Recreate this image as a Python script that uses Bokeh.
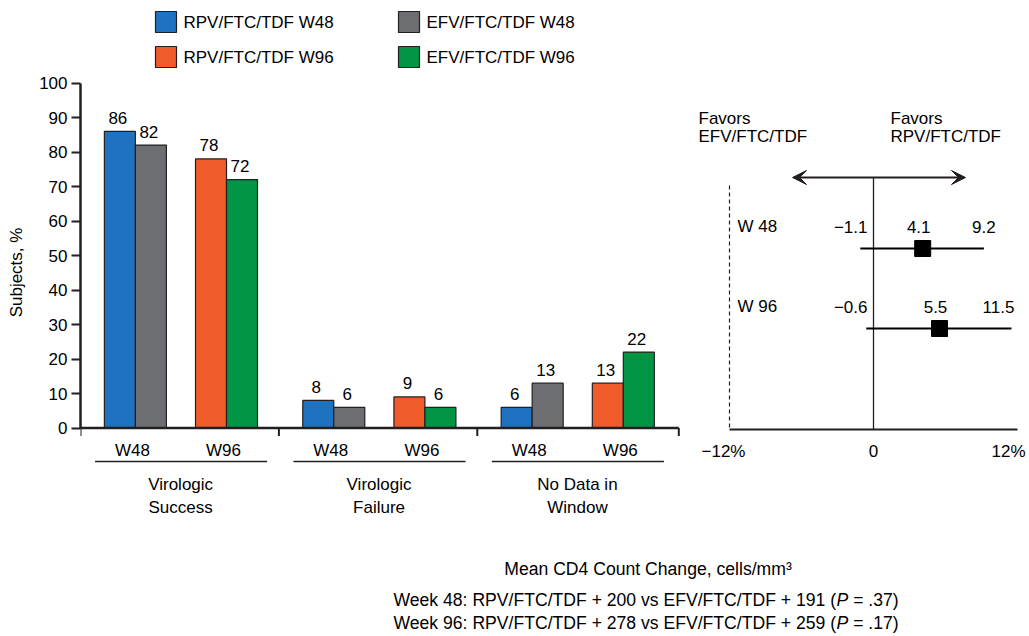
from bokeh.plotting import figure
from bokeh.models import Range1d, FixedTicker, Arrow, VeeHead
from bokeh.layouts import column
from bokeh.embed import file_html
from bokeh.resources import INLINE
from bokeh.core.properties import value

# ---------------- data ----------------
series_names = ["RPV/FTC/TDF W48", "EFV/FTC/TDF W48", "RPV/FTC/TDF W96", "EFV/FTC/TDF W96"]
series_colors = ["#1f72bf", "#6d6e71", "#f15a29", "#009444"]
rpv_w48 = [86, 8, 6]
efv_w48 = [82, 6, 13]
rpv_w96 = [78, 9, 13]
efv_w96 = [72, 6, 22]
week_labels = ["W48", "W96"]
category_line1 = ["Virologic", "Virologic", "No Data in"]
category_line2 = ["Success", "Failure", "Window"]
y_ticks = list(range(0, 101, 10))
y_axis_title = "Subjects, %"

forest_rows = ["W 48", "W 96"]
forest_est = [4.1, 5.5]
forest_lo = [-1.1, -0.6]
forest_hi = [9.2, 11.5]
forest_ticks = [-12, 0, 12]
forest_tick_labels = ["\u221212%", "0", "12%"]
favors_left = ["Favors", "EFV/FTC/TDF"]
favors_right = ["Favors", "RPV/FTC/TDF"]

cd4_title = "Mean CD4 Count Change, cells/mm\u00b3"
cd4_weeks = ["Week 48", "Week 96"]
cd4_rpv = [200, 278]
cd4_efv = [191, 259]
cd4_p = [".37", ".17"]

# ---------------- layout / style ----------------
FONT = value("Liberation Sans")
INK = "#231f20"
W, H1, H2 = 1028, 544, 91
LEFT = 80          # frame left edge (y axis position)
PX_X = 31.0        # px per bar unit
PX_Y = 3.45        # px per percent
Y0 = 427.5         # canvas y of 0 %
GROUP_W = 6.4
OFFS = [1.27, 2.27, 4.21, 5.21]
FS = "17px"
MID = "middle"


def fmt(v):
    return f"{v:.1f}".replace("-", "\u2212")


p = figure(width=W, height=H1,
           x_range=Range1d(0, (W - LEFT) / PX_X),
           y_range=Range1d(-(H1 - Y0) / PX_Y, Y0 / PX_Y),
           x_axis_location=None, toolbar_location=None, output_backend="svg",
           min_border_left=LEFT, min_border_right=0, min_border_top=0, min_border_bottom=0)
p.grid.visible = False
p.outline_line_color = None

ax = p.yaxis[0]
ax.bounds = (0, 100)
ax.ticker = FixedTicker(ticks=y_ticks)
ax.axis_line_width = 2.5
ax.axis_line_color = INK
ax.major_tick_line_width = 2
ax.major_tick_line_color = INK
ax.major_tick_out = 9
ax.major_tick_in = 0
ax.minor_tick_line_color = None
ax.major_label_text_font = "Liberation Sans"
ax.major_label_text_font_size = FS
ax.major_label_text_color = "black"
ax.major_label_standoff = 4
ax.axis_label = y_axis_title
ax.axis_label_text_font = "Liberation Sans"
ax.axis_label_text_font_size = FS
ax.axis_label_text_font_style = "normal"
ax.axis_label_text_color = "black"
ax.axis_label_standoff = 10

n_groups = len(category_line1)
series_vals = [rpv_w48, efv_w48, rpv_w96, efv_w96]
for k, (vals, col) in enumerate(zip(series_vals, series_colors)):
    xs = [g * GROUP_W + OFFS[k] for g in range(len(vals))]
    p.vbar(x=xs, top=vals, bottom=0, width=1.0, fill_color=col, line_color=INK, line_width=1.2)
    p.text(x=xs, y=[v + 13.6 / PX_Y for v in vals], text=[str(v) for v in vals],
           text_font=FONT, text_font_size=FS, text_align="center", text_baseline=MID,
           x_offset=-2, text_color="black")

# x axis line with group separators
axis_end = n_groups * GROUP_W + 0.1
p.segment(x0=[0], y0=[0], x1=[axis_end], y1=[0], line_width=2.5, line_color=INK)
tick_x = [g * GROUP_W for g in range(n_groups)] + [axis_end]
p.segment(x0=tick_x, y0=[0] * len(tick_x), x1=tick_x, y1=[-8 / PX_Y] * len(tick_x),
          line_width=2, line_color=INK)

# week labels
wx, wt = [], []
for g in range(n_groups):
    wx += [g * GROUP_W + (OFFS[0] + OFFS[1]) / 2, g * GROUP_W + (OFFS[2] + OFFS[3]) / 2]
    wt += week_labels
p.text(x=wx, y=-22.4 / PX_Y, text=wt, text_font=FONT, text_font_size=FS, text_align="center",
       text_baseline=MID, x_offset=-3, text_color="black")

# underlines
gx0 = [g * GROUP_W + 0.47 for g in range(n_groups)]
gx1 = [g * GROUP_W + 6.02 for g in range(n_groups)]
p.segment(x0=gx0, y0=-33.5 / PX_Y, x1=gx1, y1=-33.5 / PX_Y, line_width=1.3, line_color=INK)

# category labels
gc = [g * GROUP_W + 3.23 for g in range(n_groups)]
p.text(x=gc, y=-56.4 / PX_Y, text=category_line1, text_font=FONT, text_font_size=FS,
       text_align="center", text_baseline=MID, text_color="black")
p.text(x=gc, y=-79.7 / PX_Y, text=category_line2, text_font=FONT, text_font_size=FS,
       text_align="center", text_baseline=MID, text_color="black")

# legend
leg_col_x = [(165.5 - LEFT) / PX_X, (408.5 - LEFT) / PX_X]
leg_txt_x = [(183 - LEFT) / PX_X, (426 - LEFT) / PX_X]
leg_row_y = [(Y0 - 21.5) / PX_Y, (Y0 - 56.5) / PX_Y]
lx = [leg_col_x[k % 2] for k in range(len(series_names))]
ly = [leg_row_y[k // 2] for k in range(len(series_names))]
tx = [leg_txt_x[k % 2] for k in range(len(series_names))]
p.scatter(x=lx, y=ly, marker="square", size=21, fill_color=series_colors, line_color=INK, line_width=1.2)
p.text(x=tx, y=ly, text=series_names, text_font=FONT, text_font_size=FS,
       text_align="left", text_baseline=MID, text_color="black")

# ---------------- forest plot ----------------
F_PX = 12.0
F_ZERO = 873.0
ROW_PX = 80.0
ROW1 = 248.0
p.extra_x_ranges = {"f": Range1d(-(F_ZERO - LEFT) / F_PX, (W - F_ZERO) / F_PX)}
p.extra_y_ranges = {"fy": Range1d(1 + (H1 - ROW1) / ROW_PX, 1 - ROW1 / ROW_PX)}
fkw = dict(x_range_name="f", y_range_name="fy")


def fy(px):
    return 1 + (px - ROW1) / ROW_PX


def fx(px):
    return (px - F_ZERO) / F_PX


base_y = fy(429)
top_y = fy(177)
dash_top = fy(185)
p.segment(x0=[forest_ticks[0]], y0=[base_y], x1=[forest_ticks[-1]], y1=[base_y], line_width=2, line_color=INK, **fkw)
p.segment(x0=[0], y0=[top_y], x1=[0], y1=[base_y], line_width=1.3, line_color=INK, **fkw)
p.segment(x0=[forest_ticks[0]], y0=[dash_top], x1=[forest_ticks[0]], y1=[base_y], line_width=1.2,
          line_color=INK, line_dash="4 3", **fkw)
p.add_layout(Arrow(start=VeeHead(size=14, fill_color=INK, line_color=INK),
                   end=VeeHead(size=14, fill_color=INK, line_color=INK),
                   x_start=fx(792), y_start=top_y, x_end=fx(965), y_end=top_y,
                   line_width=2, line_color=INK, **fkw))

rows = [i + 1 for i in range(len(forest_rows))]
p.segment(x0=forest_lo, y0=rows, x1=forest_hi, y1=rows, line_width=2, line_color="black", **fkw)
p.scatter(x=forest_est, y=rows, marker="square", size=16, fill_color="black", line_color="black", **fkw)

lab_y = [r - 22 / ROW_PX for r in rows]
tkw = dict(text_font=FONT, text_font_size=FS, text_baseline=MID, text_color="black")
p.text(x=[fx(737)] * len(rows), y=lab_y, text=forest_rows, text_align="left", **tkw, **fkw)
p.text(x=[0] * len(rows), y=lab_y, text=[fmt(v) for v in forest_lo], text_align="right", x_offset=-6, **tkw, **fkw)
p.text(x=forest_est, y=lab_y, text=[fmt(v) for v in forest_est], text_align="center", x_offset=-4, **tkw, **fkw)
p.text(x=[min(v, fx(998)) for v in forest_hi], y=lab_y, text=[fmt(v) for v in forest_hi], text_align="center", **tkw, **fkw)

p.text(x=forest_ticks, y=[fy(450.6)] * len(forest_ticks), text=forest_tick_labels,
       text_align="center", x_offset=[-6, 0, -9], **tkw, **fkw)

fav_y = [fy(117.5), fy(135.9)]
p.text(x=[fx(698)] * 2, y=fav_y, text=favors_left, text_align="left", **tkw, **fkw)
p.text(x=[fx(890)] * 2, y=fav_y, text=favors_right, text_align="left", **tkw, **fkw)

# ---------------- bottom notes ----------------
q = figure(width=W, height=H2, x_range=Range1d(LEFT, W), y_range=Range1d(H2, 0),
           x_axis_location=None, y_axis_location=None, toolbar_location=None,
           output_backend="svg", min_border_left=LEFT, min_border_right=0,
           min_border_top=0, min_border_bottom=0)
q.grid.visible = False
q.outline_line_color = None
BFS = "17.6px"
bkw = dict(text_font=FONT, text_font_size=BFS, text_baseline=MID, text_color="black")
q.text(x=[647.5], y=[568.7 - H1], text=[cd4_title], text_align="center", **bkw)
line_y = [599.7 - H1, 622.0 - H1]
part1 = [f"{w}: RPV/FTC/TDF + {a} vs EFV/FTC/TDF + {b} (" for w, a, b in zip(cd4_weeks, cd4_rpv, cd4_efv)]
part3 = [f"\u00a0= {pv})" for pv in cd4_p]
X_START = 393.0
W1 = 25174 / 1000 * 17.6
WP = 667 / 1000 * 17.6
q.text(x=[X_START] * 2, y=line_y, text=part1, text_align="left", **bkw)
q.text(x=[X_START + W1] * 2, y=line_y, text=["P"] * 2, text_align="left", text_font_style="italic", **bkw)
q.text(x=[X_START + W1 + WP] * 2, y=line_y, text=part3, text_align="left", **bkw)

layout = column(p, q, spacing=0)
open("out.html", "w").write(file_html(layout, INLINE))
